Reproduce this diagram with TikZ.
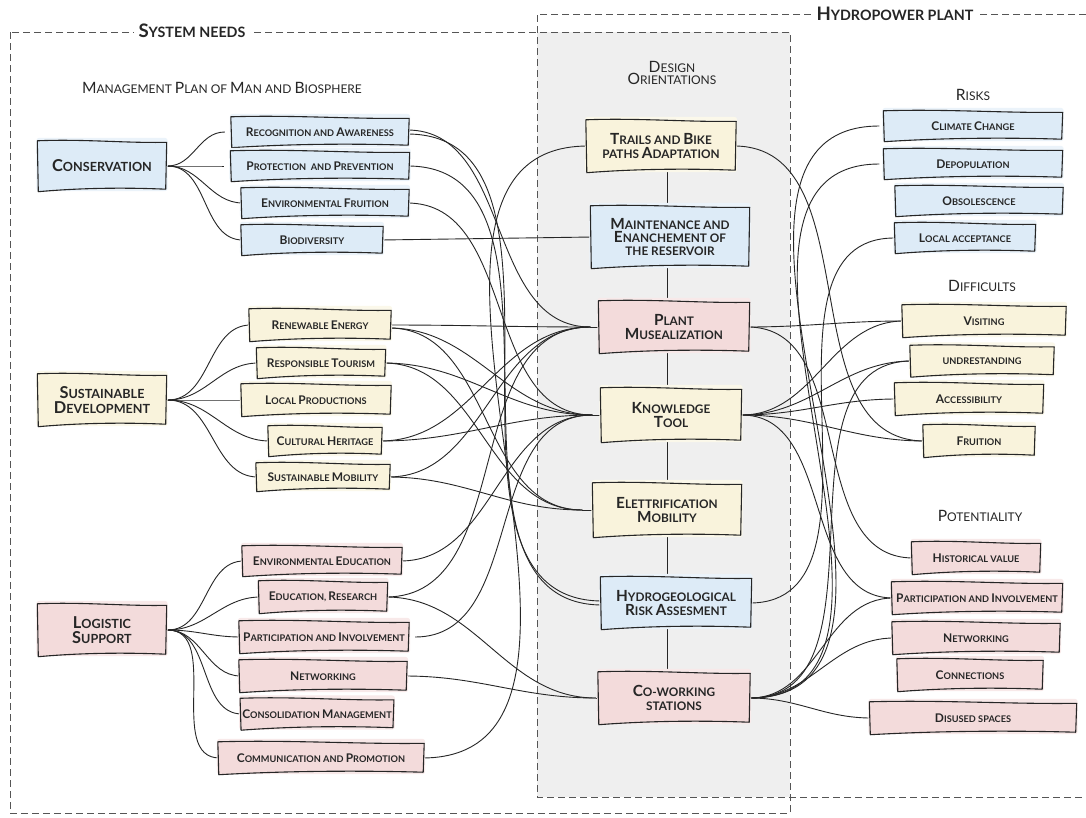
\documentclass[tikz,border=0pt]{standalone}
\usepackage{fontspec}
\setmainfont{Lato}
\usetikzlibrary{calc}
\definecolor{ink}{HTML}{262626}
\definecolor{cblue}{HTML}{DDEBF7}
\definecolor{cyel}{HTML}{F9F3DC}
\definecolor{cpink}{HTML}{F3DBDB}
\definecolor{cgray}{HTML}{EFEFEF}
\definecolor{frame}{HTML}{555555}
\makeatletter
\newcommand\B[1]{{\fontsize{\fpeval{1.3*\f@size}}{\f@baselineskip}\selectfont #1}}
\makeatother
\newcommand\tight{\lineskiplimit=-20pt\relax\lineskip=0pt\relax}
\pgfdeclarelayer{bg}\pgfdeclarelayer{back}\pgfdeclarelayer{mid}
\pgfsetlayers{bg,back,mid,main}
\newcommand\sk[2]{%
 \begin{pgfonlayer}{mid}
 \fill[#2!60, rounded corners=3pt] ([xshift=-3pt,yshift=4pt]#1.north west) rectangle ([xshift=3pt,yshift=-1pt]#1.south east);
 \filldraw[fill=#2, draw=ink, line width=1.1pt, line join=round]
  ([xshift=-2pt,yshift=1pt]#1.north west)
  .. controls ($(#1.north west)!0.35!(#1.north east)+(0,3pt)$)
  and ($(#1.north west)!0.7!(#1.north east)+(0,-1.5pt)$) ..
  ([xshift=2pt,yshift=-0.5pt]#1.north east)
  -- ([xshift=1pt,yshift=1pt]#1.south east)
  .. controls ($(#1.south east)!0.35!(#1.south west)+(0,3pt)$)
  and ($(#1.south east)!0.7!(#1.south west)+(0,2pt)$) ..
  ([xshift=-1pt,yshift=-1.5pt]#1.south west)
  -- cycle;
 \end{pgfonlayer}}
\tikzset{
  sbox/.style 2 args={minimum width=#1pt, minimum height=#2pt, inner sep=0pt, align=center, text=ink,
     font=\fontsize{9.2}{9}\selectfont\bfseries},
  mbox/.style 2 args={minimum width=#1pt, minimum height=#2pt, inner sep=0pt, align=center, text=ink,
     font=\fontsize{11.8}{13.4}\selectfont\bfseries\tight},
  cbox/.style 2 args={minimum width=#1pt, minimum height=#2pt, inner sep=0pt, align=center, text=ink,
     font=\fontsize{12.6}{15}\selectfont\bfseries\tight},
  ttl/.style={text=ink, inner sep=0pt, align=center, font=\fontsize{12}{12.4}\selectfont\tight},
  head/.style={text=ink, fill=white, inner xsep=5pt, inner ysep=2pt, font=\fontsize{14.3}{12}\selectfont\bfseries},
  con/.style={draw=ink, line width=0.9pt},
  frm/.style={draw=frame, line width=1pt, dash pattern=on 7pt off 4pt},
}
\begin{document}
\begin{tikzpicture}[x=1pt,y=-1pt]
\useasboundingbox (0,0) rectangle (1086,817);
\begin{pgfonlayer}{bg}
\fill[white] (0,0) rectangle (1086,817);
\fill[cgray] (537,32) rectangle (790,797);
\draw[frm] (10,32) rectangle (790,813);
\draw[frm] (1086,14) -- (537,14) -- (537,797) -- (1086,797);
\end{pgfonlayer}
% headings
\node[head] (hsys) at (192,31) {\B{S}YSTEM NEEDS};
\node[head] (hhyd) at (895,14) {\B{H}YDROPOWER PLANT};
\node[ttl] (tman) at (222,88) {\B{M}ANAGEMENT \B{P}LAN OF \B{M}AN AND \B{B}IOSPHERE};
\node[ttl] (tdes) at (672,73) {\B{D}ESIGN\\\B{O}RIENTATIONS};
\node[ttl] (trisk) at (973,95) {\B{R}ISKS};
\node[ttl] (tdiff) at (982,286) {\B{D}IFFICULTS};
\node[ttl] (tpot) at (980,516) {\B{P}OTENTIALITY};
% left: conservation
\node[cbox={125}{48}] (cons) at (102,166) {\B{C}ONSERVATION};
\node[sbox={174}{28}] (recaw) at (320,132) {\B{R}ECOGNITION AND \B{A}WARENESS};
\node[sbox={175}{28}] (protp) at (320,166) {\B{P}ROTECTION \ AND \B{P}REVENTION};
\node[sbox={164}{28}] (envfr) at (325,203) {\B{E}NVIRONMENTAL \B{F}RUITION};
\node[sbox={138}{28}] (biod) at (312,240) {\B{B}IODIVERSITY};
% left: sustainable development
\node[cbox={125}{50}] (sdev) at (102,400) {\B{S}USTAINABLE\\\B{D}EVELOPMENT};
\node[sbox={138}{30}] (renew) at (320,325) {\B{R}ENEWABLE \B{E}NERGY};
\node[sbox={125}{28}] (respt) at (321,363) {\B{R}ESPONSIBLE \B{T}OURISM};
\node[sbox={146}{30}] (locp) at (316,400) {\B{L}OCAL \B{P}RODUCTIONS};
\node[sbox={110}{28}] (cult) at (325,441) {\B{C}ULTURAL \B{H}ERITAGE};
\node[sbox={130}{26}] (smob) at (323,477) {\B{S}USTAINABLE \B{M}OBILITY};
% left: logistic support
\node[cbox={125}{50}] (logs) at (102,630) {\B{L}OGISTIC\\\B{S}UPPORT};
\node[sbox={156}{28}] (envedu) at (322,561) {\B{E}NVIRONMENTAL \B{E}DUCATION};
\node[sbox={125}{30}] (edres) at (323,597) {\B{E}DUCATION, \B{R}ESEARCH};
\node[sbox={166}{30}] (partL) at (324,637) {\B{P}ARTICIPATION AND \B{I}NVOLVEMENT};
\node[sbox={164}{30}] (netL) at (323,676) {\B{N}ETWORKING};
\node[sbox={142}{29}] (consm) at (317,714) {\B{C}ONSOLIDATION \B{M}ANAGEMENT};
\node[sbox={202}{30}] (comm) at (321,758) {\B{C}OMMUNICATION AND \B{P}ROMOTION};
% middle
\node[mbox={146}{50}] (trails) at (661,146) {\B{T}RAILS AND \B{B}IKE\\PATHS \B{A}DAPTATION};
\node[mbox={155}{60}] (maint) at (670,237) {\B{M}AINTENANCE AND\\\B{E}NANCHEMENT OF\\THE RESERVOIR};
\node[mbox={147}{50}] (plant) at (674,327) {\B{P}LANT\\\B{M}USEALIZATION};
\node[mbox={137}{52}] (know) at (671,415) {\B{K}NOWLEDGE\\\B{T}OOL};
\node[mbox={145}{52}] (elet) at (667,510) {\B{E}LETTRIFICATION\\\B{M}OBILITY};
\node[mbox={147}{50}] (hydro) at (676,603) {\B{H}YDROGEOLOGICAL\\\B{R}ISK \B{A}SSESMENT};
\node[mbox={148}{50}] (cowork) at (674,698) {\B{C}O-WORKING\\STATIONS};
% right
\node[sbox={175}{28}] (clim) at (973,126) {\B{C}LIMATE \B{C}HANGE};
\node[sbox={175}{28}] (depop) at (973,164) {\B{D}EPOPULATION};
\node[sbox={164}{28}] (obso) at (979,201) {\B{O}BSOLESCENCE};
\node[sbox={137}{28}] (locacc) at (965,238) {\B{L}OCAL ACCEPTANCE};
\node[sbox={160}{30}] (visit) at (984,321) {\B{V}ISITING};
\node[sbox={140}{29}] (undr) at (982,361) {UNDRESTANDING};
\node[sbox={145}{30}] (acc) at (969,399) {\B{A}CCESSIBILITY};
\node[sbox={108}{30}] (frui) at (979,441) {\B{F}RUITION};
\node[sbox={125}{30}] (hist) at (976,558) {\B{H}ISTORICAL VALUE};
\node[sbox={167}{30}] (partR) at (977,598) {\B{P}ARTICIPATION AND \B{I}NVOLVEMENT};
\node[sbox={164}{30}] (netR) at (976,638) {\B{N}ETWORKING};
\node[sbox={142}{30}] (conn) at (970,675) {\B{C}ONNECTIONS};
\node[sbox={203}{30}] (disu) at (973,718) {\B{D}ISUSED SPACES};
% box outlines
\foreach \n in {cons,recaw,protp,envfr,biod,maint,hydro,clim,depop,obso,locacc} {\sk{\n}{cblue}}
\foreach \n in {sdev,renew,respt,locp,cult,smob,trails,know,elet,visit,undr,acc,frui} {\sk{\n}{cyel}}
\foreach \n in {logs,envedu,edres,partL,netL,consm,comm,plant,cowork,hist,partR,netR,conn,disu} {\sk{\n}{cpink}}
% connectors
\coordinate (spine) at (667,0);
\coordinate (consH) at ([xshift=3pt]cons.east);
\coordinate (sdevH) at ([xshift=3pt]sdev.east);
\coordinate (logsH) at ([xshift=3pt]logs.east);
\coordinate (plantH) at ([xshift=-10pt]plant.west);
\coordinate (knowH) at ([xshift=-10pt]know.west);
\coordinate (eletH) at ([xshift=-12pt]elet.west);
\coordinate (coworkH) at ([xshift=-4pt]cowork.west);
\coordinate (knowR) at ([xshift=2pt]know.east);
\coordinate (coworkR) at ([xshift=2pt]cowork.east);
\begin{pgfonlayer}{back}
\draw[con] (cons.east) -- (consH);
\draw[con] (sdev.east) -- (sdevH);
\draw[con] (logs.east) -- (logsH);
\draw[con] (consH) to[out=0,in=180] ([xshift=-8pt]recaw.west);
\draw[con] (consH) to[out=0,in=180] ([xshift=-8pt]protp.west);
\draw[con] (consH) to[out=0,in=180] (envfr.west);
\draw[con] (consH) to[out=0,in=180] (biod.west);
\foreach \t in {renew,respt,locp,cult,smob} {\draw[con] (sdevH) to[out=0,in=180] (\t.west);}
\foreach \t in {envedu,edres,partL,netL,consm,comm} {\draw[con] (logsH) to[out=0,in=180] (\t.west);}
% spine
\draw[con] (trails.south -| spine) -- (maint.north -| spine);
\draw[con] (maint.south -| spine) -- (plant.north -| spine);
\draw[con] (plant.south -| spine) -- (know.north -| spine);
\draw[con] (know.south -| spine) -- (elet.north -| spine);
\draw[con] (elet.south -| spine) -- (hydro.north -| spine);
\draw[con] (hydro.south -| spine) -- (cowork.north -| spine);
% hubs
\draw[con] (plantH) -- (plant.west);
\draw[con] (knowH) -- (know.west);
\draw[con] (eletH) -- (elet.west);
\draw[con] (coworkH) -- (cowork.west);
% left to middle
\draw[con] ([yshift=2pt]recaw.east) to[out=0,in=180] (plantH);
\draw[con] ([yshift=-2pt]recaw.east) to[out=0,in=180] ([yshift=2pt]hydro.west);
\draw[con] (protp.east) to[out=0,in=180] ([yshift=-2pt]hydro.west);
\draw[con] (envfr.east) to[out=0,in=180] (knowH);
\draw[con] (biod.east) -- (maint.west);
\draw[con] (renew.east) to[out=0,in=180] (plantH);
\draw[con] ([yshift=-3pt]renew.east) to[out=0,in=180] (knowH);
\draw[con] ([yshift=-3pt]renew.east) to[out=0,in=180] (eletH);
\draw[con] (respt.east) to[out=0,in=180] (knowH);
\draw[con] (respt.east) to[out=0,in=180] (eletH);
\draw[con] (cult.east) to[out=0,in=180] (plantH);
\draw[con] (cult.east) to[out=0,in=180] (knowH);
\draw[con] (smob.east) to[out=0,in=180] (plantH);
\draw[con] (smob.east) to[out=0,in=180] (eletH);
\draw[con] (envedu.east) to[out=0,in=180] (knowH);
\draw[con] (edres.east) to[out=0,in=180] (plantH);
\draw[con] (edres.east) to[out=0,in=180] (coworkH);
\draw[con] ([xshift=8pt]partL.east) to[out=0,in=180] (knowH);
\draw[con] (netL.east) to[out=0,in=180] (coworkH);
\draw[con] (comm.east) to[out=0,in=180] (trails.west);
% middle to right
\draw[con] (trails.east) to[out=0,in=180] (frui.west);
\draw[con] (plant.east) to[out=0,in=180] (visit.west);
\draw[con] (plant.east) to[out=0,in=180] (hist.west);
\draw[con] (know.east) -- (knowR);
\foreach \t in {visit,undr,acc,frui,partR} {\draw[con] (knowR) to[out=0,in=180] (\t.west);}
\draw[con] (hydro.east) to[out=0,in=180] ([xshift=-2pt]locacc.west);
\draw[con] (cowork.east) -- (coworkR);
\draw[con] (coworkR) to[out=0,in=180] ([xshift=-6pt]clim.west);
\draw[con] (coworkR) to[out=0,in=180] ([xshift=-6pt]depop.west);
\draw[con] (coworkR) to[out=0,in=180] (undr.west);
\foreach \t in {partR,netR,disu} {\draw[con] (coworkR) to[out=0,in=180] (\t.west);}
\end{pgfonlayer}
\end{tikzpicture}
\end{document}
